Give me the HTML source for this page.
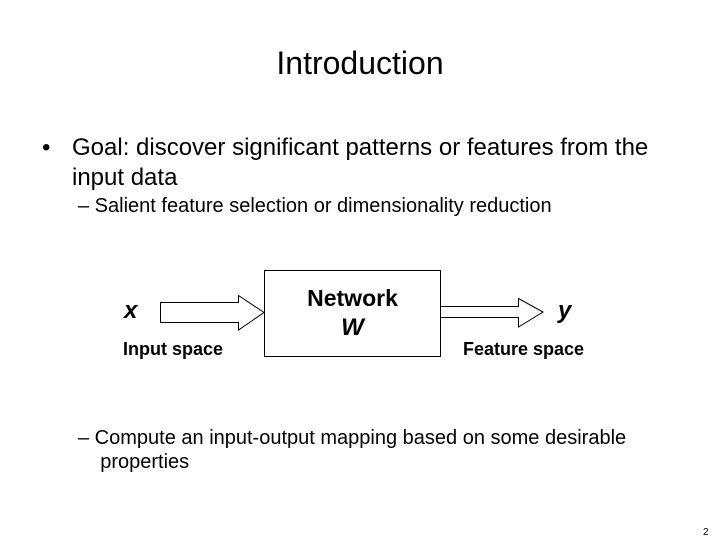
<!DOCTYPE html>
<html><head><style>
body{margin:0;width:720px;height:540px;background:#fff;position:relative;font-family:"Liberation Sans",sans-serif;color:#000;overflow:hidden}
.t{position:absolute;white-space:nowrap}
</style></head><body>
<div class="t" style="left:0;width:720px;text-align:center;top:45px;font-size:32px">Introduction</div>
<div class="t" style="left:42px;top:134px;font-size:24px">•</div>
<div class="t" style="left:72px;top:133px;font-size:24px;line-height:30px">Goal: discover significant patterns or features from the<br>input data</div>
<div class="t" style="left:78px;top:195px;font-size:20px">– Salient feature selection or dimensionality reduction</div>
<svg style="position:absolute;left:0;top:0" width="720" height="540">
<rect x="264.5" y="270.5" width="176" height="86" fill="none" stroke="#000" stroke-width="1"/>
<polygon points="160.5,302.5 238.5,302.5 238.5,295.5 264,312.5 238.5,330 238.5,322.5 160.5,322.5" fill="none" stroke="#000"/>
<polygon points="440.5,306.5 518.5,306.5 518.5,298.5 543,312 518.5,327 518.5,317.5 440.5,317.5" fill="none" stroke="#000"/>
</svg>
<div class="t" style="left:124px;top:297px;font-size:24px;font-weight:bold;font-style:italic">x</div>
<div class="t" style="left:558px;top:297px;font-size:24px;font-weight:bold;font-style:italic">y</div>
<div class="t" style="left:123px;top:339px;font-size:18px;font-weight:bold">Input space</div>
<div class="t" style="left:463px;top:339px;font-size:18px;font-weight:bold">Feature space</div>
<div class="t" style="left:264px;width:177px;text-align:center;top:285px;font-size:23px;font-weight:bold">Network</div>
<div class="t" style="left:264px;width:177px;text-align:center;top:314px;font-size:24px;font-weight:bold;font-style:italic">W</div>
<div class="t" style="left:78px;top:426px;font-size:20px;line-height:24px">– Compute an input-output mapping based on some desirable<br>&nbsp;&nbsp;&nbsp;&nbsp;properties</div>
<div class="t" style="left:703px;top:527px;font-size:10px">2</div>
</body></html>
